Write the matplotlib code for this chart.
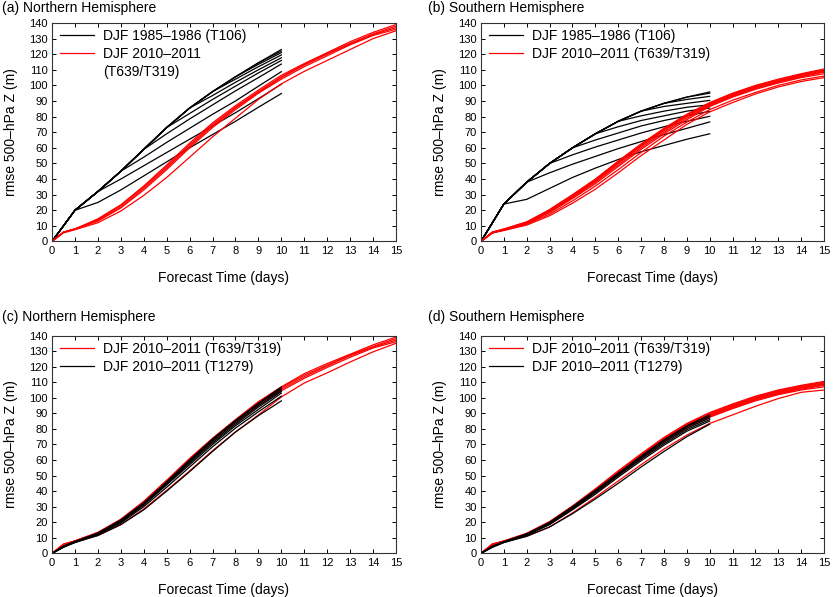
import matplotlib
matplotlib.use("Agg")
import matplotlib.pyplot as plt
from matplotlib.lines import Line2D

plt.rcParams["font.family"] = ["Liberation Sans", "DejaVu Sans"]

# forecast days
days_old = [0, 1, 2, 3, 4, 5, 6, 7, 8, 9, 10]
days_new = [0, 0.5, 1, 2, 3, 4, 5, 6, 7, 8, 9, 10, 11, 12, 13, 14, 15]
days_hi = [0, 0.5, 1, 2, 3, 4, 5, 6, 7, 8, 9, 10]

# (a) NH, DJF 1985-1986 (T106)
nh_t106 = [
    [0, 20, 32, 45, 59, 73, 85.5, 96, 105.5, 114.5, 123],
    [0, 20, 32, 45, 59, 73, 85.5, 96, 105.5, 114.5, 122],
    [0, 20, 32, 45, 59, 73, 85.5, 96, 105.5, 113.5, 121],
    [0, 20, 32, 45, 59, 73, 85.5, 96, 104, 112, 119.5],
    [0, 20, 32, 45, 59, 73, 85.5, 93.5, 102, 110, 117.7],
    [0, 20, 32, 45, 59, 73, 82, 91, 99.5, 108, 116],
    [0, 20, 32, 45, 59, 69, 78.5, 87.5, 96.5, 105, 113.7],
    [0, 20, 32, 45, 54, 63.5, 72.5, 81.5, 90, 99.5, 108.8],
    [0, 20, 32, 40, 48.5, 57, 65.5, 74, 82.5, 91.5, 100.8],
    [0, 20, 25, 33, 42, 51, 60, 68.5, 77, 86, 94.8],
]

# (a) NH, DJF 2010-2011 (T639/T319)
nh_t639_a = [
    [0, 6, 8, 14.5, 23.5, 35.5, 49, 63, 76, 87, 97, 106.5, 114, 121, 128, 134, 139],
    [0, 6, 8, 14, 23, 35, 48, 62, 75, 86, 96, 105.5, 113.5, 120.5, 127, 133, 138],
    [0, 6, 8, 13.5, 22, 34, 47, 61, 74, 85.5, 95.5, 105, 113, 120, 126.5, 132.5, 137],
    [0, 6, 8, 13, 21.5, 33, 46, 60, 73, 84.5, 95, 104, 112, 119, 126, 132, 136],
    [0, 5.5, 7.5, 12, 19.5, 29.5, 41, 54, 67, 79, 91, 101, 109, 116, 123, 130, 135],
]

# (b) SH, DJF 1985-1986 (T106)
sh_t106 = [
    [0, 24, 38, 50, 60, 69, 77, 83.5, 88.5, 92.5, 95.8],
    [0, 24, 38, 50, 60, 69, 77, 83.5, 88.5, 92.5, 95],
    [0, 24, 38, 50, 60, 69, 77, 83.5, 88.5, 91, 93],
    [0, 24, 38, 50, 60, 69, 77, 83.5, 86.5, 88.5, 90.4],
    [0, 24, 38, 50, 60, 69, 77, 80.5, 83.5, 86, 87.6],
    [0, 24, 38, 50, 60, 69, 73.5, 77.5, 80.5, 83.5, 85.5],
    [0, 24, 38, 50, 60, 65, 69.5, 74, 77.5, 80.5, 83.4],
    [0, 24, 38, 50, 55.5, 60.5, 65, 69.5, 73.5, 77, 80.2],
    [0, 24, 38, 44, 49.5, 54.5, 59.5, 64, 68.5, 72.5, 76.6],
    [0, 24, 27, 34, 41, 47, 52.5, 57.5, 61.5, 65.5, 69],
]

# (b) SH, DJF 2010-2011 (T639/T319)
sh_t639_b = [
    [0, 6, 8, 12.5, 20.5, 30, 40, 51.5, 62.5, 72.5, 81.5, 89, 95, 100, 104, 107.5, 110.5],
    [0, 6, 8, 12.5, 20, 29.5, 39.5, 51, 62, 72, 81, 88.5, 94.5, 99.5, 103.5, 107, 110],
    [0, 6, 7.5, 12, 19.5, 29, 39, 50.5, 61.5, 71.5, 80.5, 88, 94, 99, 103, 106.5, 109.5],
    [0, 6, 7.5, 12, 19.5, 28.5, 38.5, 50, 61, 71, 80, 87.5, 93.5, 98.5, 102.5, 106, 109],
    [0, 5.5, 7.5, 11.5, 19, 28, 38, 49, 60, 70, 79, 87, 93, 98, 102, 105.5, 108.5],
    [0, 5.5, 7.5, 11.5, 18.5, 27.5, 37, 48, 59, 69, 78, 86.5, 92.5, 97.5, 101.5, 105, 107.5],
    [0, 5.5, 7.5, 11, 17.5, 26, 35.5, 46, 57, 67.5, 76.5, 84.5, 90.5, 95.5, 100, 103.5, 106],
    [0, 5.5, 7, 10.5, 16.5, 24.5, 33.5, 44, 55, 65, 75, 83, 89, 94.5, 99, 102.5, 105],
]

# (c) NH, DJF 2010-2011 (T639/T319)
nh_t639_c = [
    [0, 6, 8, 13.5, 22, 33.5, 47, 61, 74, 86, 97.5, 107, 115.5, 122, 128, 134, 139],
    [0, 6, 8, 13.5, 21.5, 33, 46.5, 60.5, 73.5, 85.5, 97, 106.5, 114.5, 121, 127.5, 133, 138],
    [0, 5.5, 8, 13, 21, 32.5, 46, 60, 73, 85, 96, 105.5, 113.5, 120.5, 127, 132.5, 137],
    [0, 5.5, 8, 13, 21, 32, 45, 59, 72, 84, 95, 104.5, 112.5, 119.5, 126, 132, 136],
    [0, 5, 7.5, 11.5, 18.5, 28.5, 40.5, 53, 66, 78, 89, 100.5, 109.5, 116, 123, 129.5, 135],
]

# (c) NH, DJF 2010-2011 (T1279)
nh_t1279 = [
    [0, 4.5, 7.5, 13, 21.5, 32.5, 46, 60, 73.5, 85.5, 96.5, 107],
    [0, 4.5, 7.5, 13, 21, 32, 45.5, 59.5, 73, 85, 96, 106],
    [0, 4.5, 7.5, 12.5, 21, 32, 45, 59, 72, 84, 95, 105],
    [0, 4.5, 7.5, 12.5, 20.5, 31.5, 44.5, 58, 71, 83, 94, 104],
    [0, 4, 7.5, 12.5, 20, 31, 44, 57, 70, 82, 92.5, 103],
    [0, 4, 7, 12, 19.5, 30, 42.5, 55.5, 68.5, 80.5, 91, 101],
    [0, 4, 7, 11.5, 18.5, 28, 40, 52.5, 65.5, 78, 88.5, 98],
]

# (d) SH, DJF 2010-2011 (T639/T319)
sh_t639_d = [
    [0, 6, 8, 13, 20.5, 30.5, 41.5, 53, 64, 74.5, 83.5, 90.5, 96, 101, 105, 108, 110.5],
    [0, 6, 8, 12.5, 20, 30, 41, 52.5, 63.5, 74, 83, 90, 95.5, 100.5, 104.5, 107.5, 110],
    [0, 6, 7.5, 12.5, 20, 30, 40.5, 52, 63, 73.5, 82.5, 89.5, 95, 100, 104, 107, 109.5],
    [0, 6, 7.5, 12.5, 19.5, 29.5, 40.5, 51.5, 62.5, 73, 82, 89, 94.5, 99.5, 103.5, 106.5, 109],
    [0, 5.5, 7.5, 12, 19.5, 29, 40, 51, 62, 72.5, 81.5, 88.5, 94, 99, 103, 106, 108.5],
    [0, 5.5, 7.5, 12, 19, 29, 39.5, 50.5, 61.5, 72, 81, 88, 93.5, 98.5, 102.5, 105.5, 108],
    [0, 5.5, 7.5, 12, 19, 28.5, 39, 50, 61, 71.5, 80.5, 87.5, 93, 98, 102, 105, 107],
    [0, 5, 7.5, 11, 17, 26, 36, 46.5, 57, 67, 76, 83.5, 89, 94.5, 99.5, 103.5, 105],
]

# (d) SH, DJF 2010-2011 (T1279)
sh_t1279 = [
    [0, 4.5, 7.5, 12.5, 20, 30, 40.5, 51.5, 62.5, 73, 82, 89],
    [0, 4.5, 7.5, 12.5, 19.5, 29.5, 40, 51, 62, 72.5, 81.5, 88],
    [0, 4.5, 7.5, 12, 19.5, 29, 39.5, 50.5, 61.5, 71.5, 80.5, 87],
    [0, 4.5, 7.5, 12, 19, 28.5, 39, 50, 60.5, 70.5, 79.5, 86],
    [0, 4, 7, 11.5, 18.5, 28, 38, 49, 59.5, 69.5, 78.5, 85],
    [0, 4, 7, 11, 17, 25.5, 35, 45, 55.5, 65.5, 75, 83],
]

titles = ["(a) Northern Hemisphere", "(b) Southern Hemisphere",
          "(c) Northern Hemisphere", "(d) Southern Hemisphere"]

LW = 0.9
RED = "#ff0000"

fig = plt.figure(figsize=(8.33, 5.97), dpi=100)
rects = [
    [0.0624, 0.5955, 0.413, 0.366],
    [0.5774, 0.5955, 0.4118, 0.366],
    [0.0624, 0.0730, 0.413, 0.365],
    [0.5774, 0.0730, 0.4118, 0.365],
]
axes = [fig.add_axes(r) for r in rects]


def style(ax):
    ax.set_xlim(0, 15)
    ax.set_ylim(0, 140)
    ax.set_xticks(range(0, 16))
    ax.set_yticks(range(0, 141, 10))
    ax.tick_params(direction="in", length=3, width=0.7, top=True, right=True,
                   labelsize=8, pad=3)
    for s in ax.spines.values():
        s.set_linewidth(0.8)
        s.set_color("#333333")
    ax.set_xlabel("Forecast Time (days)", fontsize=10, labelpad=11)
    ax.set_ylabel("rmse 500\u2013hPa Z (m)", fontsize=10, labelpad=8)


def add_legend(ax, handles, labels):
    ax.legend(handles, labels, loc="upper left", bbox_to_anchor=(0, 1.01),
              frameon=False, fontsize=10, handlelength=2.4, handletextpad=0.7,
              labelspacing=0.3, borderaxespad=0.2)


# (a)
ax = axes[0]
for v in nh_t106:
    ax.plot(days_old, v, color="black", lw=LW)
for v in nh_t639_a:
    ax.plot(days_new, v, color=RED, lw=LW)
add_legend(ax, [Line2D([], [], color="black", lw=LW), Line2D([], [], color=RED, lw=LW),
                Line2D([], [], color="none")],
           ["DJF 1985\u20131986 (T106)", "DJF 2010\u20132011", "(T639/T319)"])

# (b)
ax = axes[1]
for v in sh_t106:
    ax.plot(days_old, v, color="black", lw=LW)
for v in sh_t639_b:
    ax.plot(days_new, v, color=RED, lw=LW)
add_legend(ax, [Line2D([], [], color="black", lw=LW), Line2D([], [], color=RED, lw=LW)],
           ["DJF 1985\u20131986 (T106)", "DJF 2010\u20132011 (T639/T319)"])

# (c)
ax = axes[2]
for v in nh_t639_c:
    ax.plot(days_new, v, color=RED, lw=LW)
for v in nh_t1279:
    ax.plot(days_hi, v, color="black", lw=LW)

# (d)
ax = axes[3]
for v in sh_t639_d:
    ax.plot(days_new, v, color=RED, lw=LW)
for v in sh_t1279:
    ax.plot(days_hi, v, color="black", lw=LW)

for ax in axes[2:]:
    add_legend(ax, [Line2D([], [], color=RED, lw=LW), Line2D([], [], color="black", lw=LW)],
               ["DJF 2010\u20132011 (T639/T319)", "DJF 2010\u20132011 (T1279)"])

for ax in axes:
    style(ax)

title_pos = [(2, 8), (428, 8), (2, 317), (428, 317)]
for (px, py), t in zip(title_pos, titles):
    fig.text(px / 833, 1 - py / 597, t, fontsize=10, ha="left", va="center")

fig.savefig("out.png", dpi=100)
